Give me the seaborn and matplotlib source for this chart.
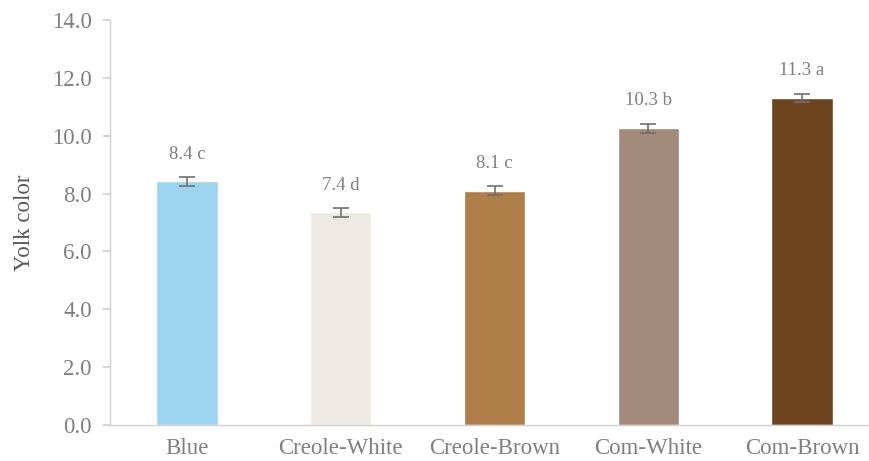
import matplotlib
matplotlib.use("Agg")
import matplotlib.pyplot as plt
import seaborn as sns
import pandas as pd

categories = ["Blue", "Creole-White", "Creole-Brown", "Com-White", "Com-Brown"]
values = [8.42, 7.35, 8.10, 10.26, 11.30]
errors = [0.15, 0.15, 0.15, 0.15, 0.15]
labels = ["8.4 c", "7.4 d", "8.1 c", "10.3 b", "11.3 a"]
colors = ["#9DD5F0", "#EEE9E2", "#B07E48", "#A48A7A", "#6E441E"]
yticks = [0, 2, 4, 6, 8, 10, 12, 14]

sns.set_theme(style="white")
plt.rcParams["font.family"] = ["Liberation Serif", "DejaVu Serif"]

df = pd.DataFrame({"cat": categories, "val": values})
fig = plt.figure(figsize=(8.69, 4.61), dpi=100)
ax = fig.add_axes([110/869, 36/461, 769/869, 405/461])
sns.barplot(data=df, x="cat", y="val", hue="cat", palette=colors, width=0.40,
            legend=False, ax=ax, errorbar=None, saturation=1)
ax.errorbar(range(len(values)), values, yerr=errors, fmt="none", ecolor="#707070",
            elinewidth=1.2, capsize=6, capthick=1.2)
for i, (v, e, t) in enumerate(zip(values, errors, labels)):
    ax.text(i, v + e + 0.5, t, ha="center", va="bottom", fontsize=13.5, color="#7F7F7F")

ax.set_ylim(0, 14)
ax.set_xlim(-0.5, 4.5)
ax.set_yticks(yticks)
ax.set_yticklabels([f"{y:.1f}" for y in yticks])
ax.set_xlabel("")
ax.set_ylabel("Yolk color", fontsize=16.5, color="#595959", labelpad=12)
ax.tick_params(axis="y", labelsize=16.5, labelcolor="#7F7F7F", length=5, color="#D0D0D0", left=True, pad=8)
ax.tick_params(axis="x", labelsize=16.5, labelcolor="#7F7F7F", length=0, pad=9)
for s in ["top", "right"]:
    ax.spines[s].set_visible(False)
for s in ["left", "bottom"]:
    ax.spines[s].set_color("#D0D0D0")
    ax.spines[s].set_linewidth(1.0)
fig.savefig("out.png", dpi=100)
